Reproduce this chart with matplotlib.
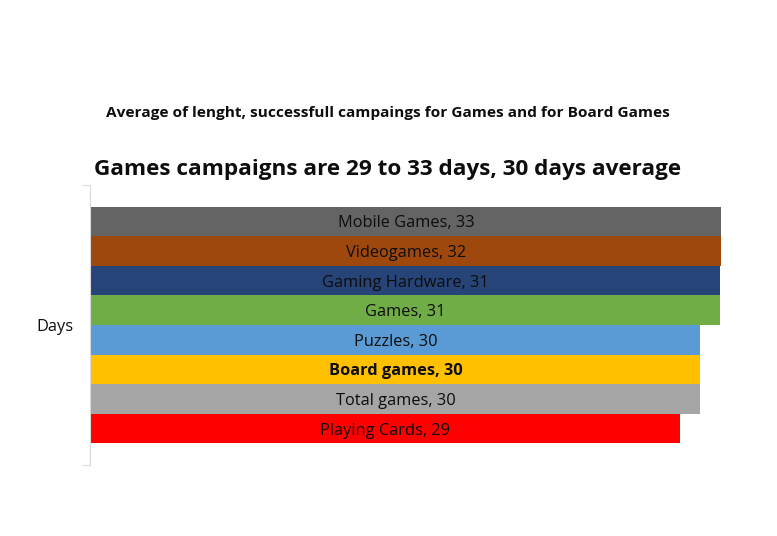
import matplotlib.pyplot as plt

plt.rcParams['font.family'] = ['Open Sans', 'DejaVu Sans']

# data, top to bottom
categories = ["Mobile Games", "Videogames", "Gaming Hardware", "Games",
              "Puzzles", "Board games", "Total games", "Playing Cards"]
days = [33, 32, 31, 31, 30, 30, 30, 29]
colors = ["#646464", "#9e480e", "#264478", "#70ad47",
          "#5b9bd5", "#ffc000", "#a5a5a5", "#ff0000"]
bold_cat = "Board games"

title = "Average of lenght, successfull campaings for Games and for Board Games"
subtitle = "Games campaigns are 29 to 33 days, 30 days average"

W, H = 777, 536
fig = plt.figure(figsize=(W / 100, H / 100), dpi=100)
ax = fig.add_axes([91 / W, 1 - 465 / H, (721 - 91) / W, 280 / H])

xmax = 31.03
ypos = list(range(len(categories)))
ax.barh(ypos, days, height=1.0, color=colors, left=0)
ax.set_xlim(0, xmax)
margin = 0.73
ax.set_ylim(len(categories) - 0.5 + margin, -0.5 - margin)

for y, cat, v in zip(ypos, categories, days):
    xc = min(v, xmax) / 2
    ax.text(xc, y, f"{cat}, {v}", ha="center", va="center_baseline", fontsize=11.8,
            color="#0d0d0d", fontweight="bold" if cat == bold_cat else "normal")

for s in ["top", "right", "bottom"]:
    ax.spines[s].set_visible(False)
ax.spines["left"].set_color("#d9d9d9")
ax.spines["left"].set_position(("outward", 1))
ax.set_xticks([])
ax.set_yticks(ax.get_ylim())
ax.tick_params(axis="y", length=6, color="#d9d9d9", labelleft=False)
ax.text(-0.028, 0.5, "Days", transform=ax.transAxes, ha="right", va="center_baseline",
        fontsize=11.8, color="#0d0d0d")

fig.text(388 / W, 1 - 113 / H, title, ha="center", va="center",
         fontsize=11.1, fontweight="bold", color="#0d0d0d")
fig.text(388 / W, 1 - 169 / H, subtitle, ha="center", va="center",
         fontsize=16.2, fontweight="bold", color="#0d0d0d")

fig.savefig("out.png", dpi=100)
